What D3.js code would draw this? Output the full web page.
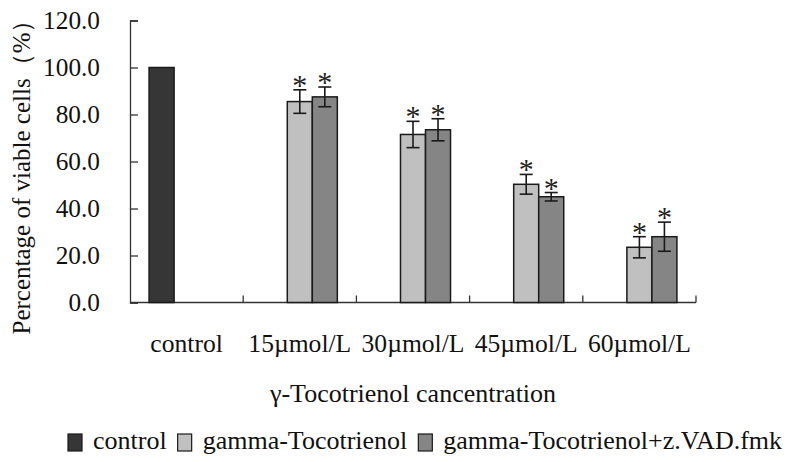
<!DOCTYPE html>
<html><head><meta charset="utf-8">
<script src="https://cdn.jsdelivr.net/npm/d3@7"></script>
<style>html,body{margin:0;padding:0;background:#fff;} svg{display:block;}</style>
</head><body>
<script>
const categories = ["control", "15µmol/L", "30µmol/L", "45µmol/L", "60µmol/L"];
const seriesNames = ["control", "gamma-Tocotrienol", "gamma-Tocotrienol+z.VAD.fmk"];
const controlValues = [100, null, null, null, null];
const gtValues = [null, 85.5, 71.5, 50.3, 23.5];
const gtErrors = [null, 5.0, 5.6, 4.2, 4.5];
const gtzValues = [null, 87.5, 73.5, 45.0, 28.0];
const gtzErrors = [null, 4.2, 4.7, 1.8, 6.2];
const significant = [false, true, true, true, true];
const yTicks = [0, 20, 40, 60, 80, 100, 120];
const xTitle = "γ-Tocotrienol cancentration";
const yTitle = "Percentage of viable cells（%）";

const colors = ["#363636", "#c0c0c0", "#858585"];
const W = 791, H = 462;
const FONT = '"Liberation Serif"';

const svg = d3.select("body").append("svg").attr("width", W).attr("height", H);

const plot = {left: 130, right: 696, top: 20.5, bottom: 302.5};
const x0 = d3.scaleBand().domain(categories).range([plot.left, plot.right]).paddingInner(0).paddingOuter(0);
const bw = x0.bandwidth();
const gw = bw * 0.663;
const x1 = d3.scaleBand().domain(seriesNames).range([(bw - gw) / 2, (bw + gw) / 2]);
const y = d3.scaleLinear().domain([0, 120]).range([plot.bottom, plot.top]);

const seriesData = [
  {name: seriesNames[0], values: controlValues, errors: [null, null, null, null, null]},
  {name: seriesNames[1], values: gtValues, errors: gtErrors},
  {name: seriesNames[2], values: gtzValues, errors: gtzErrors}
];

// Y axis
const yAxis = d3.axisRight(y).tickValues(yTicks).tickSize(8).tickFormat("");
const ya = svg.append("g").attr("transform", `translate(${plot.left},0)`).call(yAxis);
ya.select(".domain").attr("stroke", "#333").attr("stroke-width", 1.3);
ya.selectAll(".tick line").attr("stroke", "#333").attr("stroke-width", 1.3);
svg.append("g").selectAll("text").data(yTicks).join("text")
  .attr("x", 100).attr("y", d => y(d)).attr("dy", "0.32em")
  .attr("text-anchor", "end").attr("font-size", 25.3).attr("fill", "#111")
  .style("font-family", FONT)
  .text(d => d3.format(".1f")(d));

// X axis
const boundaries = categories.map(c => x0(c) + bw);
svg.append("line").attr("x1", plot.left).attr("x2", plot.right)
  .attr("y1", y(0)).attr("y2", y(0)).attr("stroke", "#333").attr("stroke-width", 1.3);
svg.append("g").selectAll("line").data(boundaries).join("line")
  .attr("x1", d => d).attr("x2", d => d).attr("y1", y(0)).attr("y2", y(0) - 7)
  .attr("stroke", "#333").attr("stroke-width", 1.3);

// Bars
seriesData.forEach((s, si) => {
  const g = svg.append("g");
  const pts = categories.map((c, i) => ({c, v: s.values[i], e: s.errors[i], sig: significant[i] && si > 0}))
    .filter(d => d.v != null);
  g.selectAll("rect").data(pts).join("rect")
    .attr("x", d => x0(d.c) + x1(s.name))
    .attr("y", d => y(d.v))
    .attr("width", x1.bandwidth())
    .attr("height", d => y(0) - y(d.v))
    .attr("fill", colors[si]).attr("stroke", "#1a1a1a").attr("stroke-width", 1.5);
  const eb = pts.filter(d => d.e != null);
  const cx = d => x0(d.c) + x1(s.name) + x1.bandwidth() / 2;
  g.selectAll("line.v").data(eb).join("line").attr("class", "v")
    .attr("x1", cx).attr("x2", cx).attr("y1", d => y(d.v + d.e)).attr("y2", d => y(d.v - d.e))
    .attr("stroke", "#1a1a1a").attr("stroke-width", 1.6);
  ["t", "b"].forEach(k => {
    g.selectAll("line.c" + k).data(eb).join("line").attr("class", "c" + k)
      .attr("x1", d => cx(d) - 6.5).attr("x2", d => cx(d) + 6.5)
      .attr("y1", d => y(k === "t" ? d.v + d.e : d.v - d.e))
      .attr("y2", d => y(k === "t" ? d.v + d.e : d.v - d.e))
      .attr("stroke", "#1a1a1a").attr("stroke-width", 1.6);
  });
  g.selectAll("text.sig").data(pts.filter(d => d.sig)).join("text").attr("class", "sig")
    .attr("x", cx).attr("y", d => y(d.v + (d.e || 0)) + 5)
    .attr("text-anchor", "middle").attr("font-size", 30).attr("fill", "#222")
    .style("font-family", FONT)
    .text("*");
});

// Category labels
svg.append("g").selectAll("text").data(categories).join("text")
  .attr("x", d => x0(d) + bw / 2).attr("y", 352)
  .attr("text-anchor", "middle").attr("font-size", 25.6).attr("fill", "#111")
  .style("font-family", FONT)
  .text(d => d);

// X title
svg.append("text").attr("x", (plot.left + plot.right) / 2).attr("y", 402)
  .attr("text-anchor", "middle").attr("font-size", 26).attr("fill", "#111")
  .style("font-family", FONT).text(xTitle);

// Y title
svg.append("text").attr("transform", `translate(30,${171}) rotate(-90)`)
  .attr("text-anchor", "middle").attr("font-size", 25).attr("fill", "#111")
  .style("font-family", FONT).text(yTitle);

// Legend
const leg = svg.append("g");
let lx = 68;
seriesNames.forEach((n, i) => {
  leg.append("rect").attr("x", lx).attr("y", 434).attr("width", 14).attr("height", 17)
    .attr("fill", colors[i]).attr("stroke", "#1a1a1a").attr("stroke-width", 1.2);
  const t = leg.append("text").attr("x", lx + 25).attr("y", 449)
    .attr("font-size", 26).attr("fill", "#111")
    .style("font-family", FONT).text(n);
  lx += 25 + t.node().getComputedTextLength() + 11;
});
</script>
</body></html>
